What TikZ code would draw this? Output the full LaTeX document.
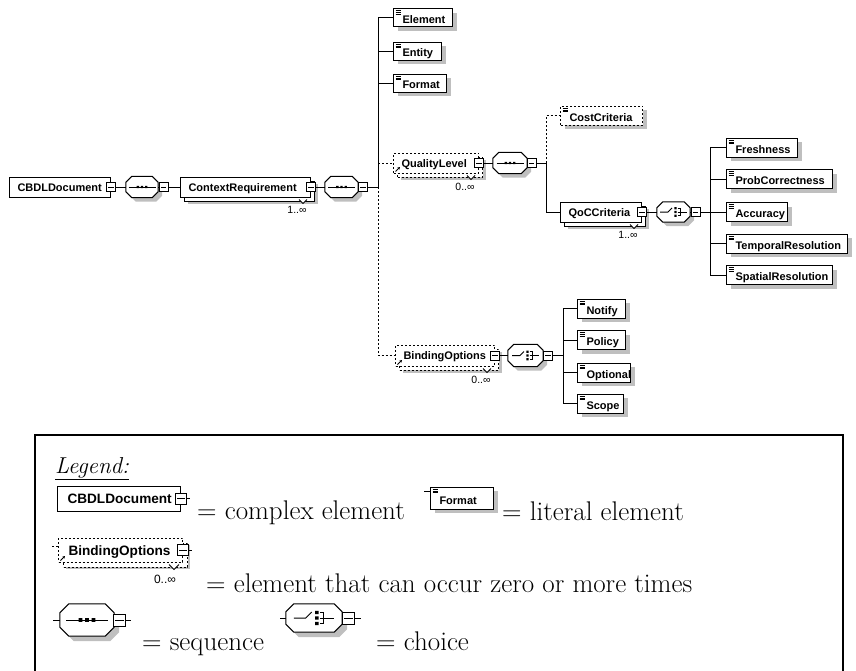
\documentclass[tikz,border=0pt]{standalone}
\usepackage{fontspec}
\usetikzlibrary{shadows,arrows.meta}
\newfontfamily\xsf{Liberation Sans}
\newcommand\lblfont{\xsf\bfseries\fontsize{11}{13}\selectfont}
\newcommand\lgdlblfont{\xsf\bfseries\fontsize{13.6}{16}\selectfont}
\newcommand\mltfont{\xsf\fontsize{10.5}{12}\selectfont}
\newcommand\lgdfont{\fontsize{27}{32}\selectfont}
\def\boxpad{8pt}
\tikzset{
  ln/.style={line width=1pt},
  dsh/.style={dash pattern=on 2pt off 2pt},
  bpad/.code={\def\boxpad{#1}},
  box/.style={rectangle, draw, fill=white, line width=1pt, anchor=west,
    inner xsep=0pt, inner ysep=0pt, align=left,
    execute at begin node={\hyphenpenalty=10000\exhyphenpenalty=10000\noindent\hspace*{\boxpad}}},
  cplx/.style={box, bpad=8pt, font=\lblfont, minimum height=20pt, text height=8pt, text depth=0pt},
  lit/.style={box, bpad=9pt, font=\lblfont, minimum height=18pt, text height=11pt, text depth=0pt,
    path picture={\foreach \k in {2.2pt,3.9pt,5.6pt}{\draw[line width=0.6pt,solid] ([xshift=2pt,yshift=-\k]path picture bounding box.north west) -- ++(5pt,0pt);}}},
  gshd/.style={general shadow={shadow xshift=#1, shadow yshift=-#1, fill=black!25, draw=none}},
  gshd/.default=4pt,
  stack/.style={general shadow={shadow xshift=4pt, shadow yshift=-4pt, fill=white, draw=black, line width=1pt, #1}},
  stack/.default=,
  mbox/.style={rectangle, draw, solid, fill=white, line width=0.8pt, minimum size=9pt, inner sep=0pt,
    path picture={\draw[line width=0.8pt] ([xshift=1.8pt]path picture bounding box.west) -- ([xshift=-1.8pt]path picture bounding box.east);}},
  octn/.style={rectangle, inner sep=0pt, draw=none},
  lgd/.style={anchor=base west, inner sep=0pt, font=\lgdfont},
  mlt/.style={font=\mltfont, inner sep=0pt, anchor=north},
}
\newcommand\octp[2]{([xshift=#2]#1.north west) -- ([xshift=-#2]#1.north east) -- ([yshift=-#2]#1.north east) -- ([yshift=#2]#1.south east) -- ([xshift=-#2]#1.south east) -- ([xshift=#2]#1.south west) -- ([yshift=#2]#1.south west) -- ([yshift=-#2]#1.north west) -- cycle}
\newcommand\octo[3]{%
  \fill[black!25, transform canvas={xshift=#3,yshift=-#3}] \octp{#1}{#2};
  \draw[ln, fill=white] \octp{#1}{#2};}
\newcommand\seqsym[2]{\begin{scope}[shift={(#1.center)}, scale=#2]
  \draw[line width=1pt] (-13.5,0) -- (13.5,0);
  \fill (-5.4,-1.2) rectangle (-3,1.2) (-1.2,-1.2) rectangle (1.2,1.2) (3,-1.2) rectangle (5.4,1.2);
\end{scope}}
\newcommand\chosym[2]{\begin{scope}[shift={(#1.center)}, scale=#2]
  \draw[line width=1pt] (-13.5,0) -- (-5.5,0) -- (-1.5,-4);
  \fill (0.8,-4.8) rectangle (3,-2.6) (0.8,-1.1) rectangle (3,1.1) (0.8,2.6) rectangle (3,4.8);
  \draw[line width=1pt] (4,-3.7) -- (6.5,-3.7) -- (6.5,3.7) -- (4,3.7) (4,0) -- (13.5,0);
\end{scope}}
\newcommand\mult[3]{%
  \draw[line width=0.8pt, fill=white, solid] ([shift={(-12,2)}]#1.south east) -- ([shift={(-8,6)}]#1.south east) -- ([shift={(-4,2)}]#1.south east);
  \node[mlt] (#2) at ([shift={(-14,9)}]#1.south east) {#3};}
\newcommand\refarr[1]{\draw[line width=1pt, solid, -{Stealth[length=2.6pt,width=2.8pt]}] ([shift={(2.5,-2)}]#1.south west) -- ([shift={(7,-6.5)}]#1.south west);}
\begin{document}
\begin{tikzpicture}[x=1pt,y=-1pt]
\useasboundingbox (0,0) rectangle (856,670);
% ---------- root chain
\node[cplx, text width=101pt] (cbdl) at (9,187) {CBDLDocument};
\node[mbox] (cbdlm) at (cbdl.east) {};
\node[octn, minimum width=32pt, minimum height=21pt] (s1) at (142,187) {};
\octo{s1}{6pt}{4pt}\seqsym{s1}{1}
\node[mbox] (s1m) at (163.5,187) {};
\node[cplx, gshd=7pt, stack, text width=130pt] (cr) at (180,187) {ContextRequirement};
\node[mbox] (crm) at (cr.east) {};
\mult{cr}{crn}{1..∞}
\node[octn, minimum width=33pt, minimum height=21pt] (s2) at (341.5,187) {};
\octo{s2}{6pt}{4pt}\seqsym{s2}{1}
\node[mbox] (s2m) at (363,187) {};
\coordinate (t1) at (378,187);
\draw[ln] (cbdlm) -- (s1); \draw[ln] (s1) -- (s1m); \draw[ln] (s1m) -- (cr);
\draw[ln] (crm) -- (s2); \draw[ln] (s2) -- (s2m); \draw[ln] (s2m) -- (t1);
% ---------- children of ContextRequirement
\node[lit, gshd, text width=59pt] (el) at (393,17.5) {Element};
\node[lit, gshd, text width=48pt] (en) at (393,51) {Entity};
\node[lit, gshd, text width=53pt] (fo) at (393,83) {Format};
\node[cplx, dsh, gshd=7pt, stack={dsh}, text width=85pt] (ql) at (393,163) {QualityLevel};
\node[mbox] (qlm) at (ql.east) {};
\mult{ql}{qln}{0..∞}\refarr{ql}
\node[cplx, dsh, gshd=7pt, stack={dsh}, text width=99pt, minimum height=21pt] (bo) at (395,355.5) {BindingOptions};
\node[mbox] (bom) at (bo.east) {};
\mult{bo}{bon}{0..∞}\refarr{bo}
\draw[ln, dsh] (t1) |- (ql.west);
\draw[ln, dsh] (t1) |- (bo.west);
\draw[ln] (t1) |- (el.west);
\draw[ln] (t1) |- (en.west);
\draw[ln] (t1) |- (fo.west);
% ---------- QualityLevel
\node[octn, minimum width=34pt, minimum height=21pt] (s3) at (510,163) {};
\octo{s3}{6pt}{4pt}\seqsym{s3}{1}
\node[mbox] (s3m) at (531.5,163) {};
\coordinate (t2) at (546,163);
\draw[ln] (qlm) -- (s3); \draw[ln] (s3) -- (s3m); \draw[ln] (s3m) -- (t2);
\node[lit, dsh, gshd, text width=82pt, minimum height=19pt] (cc) at (560,115.5) {CostCriteria};
\node[cplx, gshd=7pt, stack, text width=81pt] (qoc) at (560,212) {QoCCriteria};
\node[mbox] (qocm) at (qoc.east) {};
\mult{qoc}{qocn}{1..∞}
\draw[ln, dsh] (t2) |- (cc.west);
\draw[ln] (t2) |- (qoc.west);
% ---------- QoCCriteria choice
\node[octn, minimum width=33pt, minimum height=20pt] (c1) at (673.5,212) {};
\octo{c1}{6pt}{4pt}\chosym{c1}{1}
\node[mbox] (c1m) at (695.5,212) {};
\coordinate (t3) at (710,212);
\draw[ln] (qocm) -- (c1); \draw[ln] (c1) -- (c1m); \draw[ln] (c1m) -- (t3);
\node[lit, gshd, text width=71pt, minimum height=19pt] (fr) at (726,147.5) {Freshness};
\node[lit, gshd, text width=106pt, minimum height=19pt] (pc) at (726,179) {ProbCorrectness};
\node[lit, gshd, text width=61pt, minimum height=19pt] (ac) at (726,212) {Accuracy};
\node[lit, gshd, text width=121pt, minimum height=19pt] (tr) at (726,243.5) {TemporalResolution};
\node[lit, gshd, text width=106pt, minimum height=19pt] (sr) at (726,275) {SpatialResolution};
\foreach \n in {fr,pc,ac,tr,sr} \draw[ln] (t3) |- (\n.west);
% ---------- BindingOptions choice
\node[octn, minimum width=35pt, minimum height=22pt] (c2) at (525.5,355.5) {};
\octo{c2}{6pt}{4pt}\chosym{c2}{1}
\node[mbox] (c2m) at (548,355.5) {};
\coordinate (t4) at (563,355.5);
\draw[ln] (bom) -- (c2); \draw[ln] (c2) -- (c2m); \draw[ln] (c2m) -- (t4);
\node[lit, gshd, text width=48pt, minimum height=19pt] (no) at (577,308.5) {Notify};
\node[lit, gshd, text width=48pt, minimum height=19pt] (po) at (577,340) {Policy};
\node[lit, gshd, text width=53pt, minimum height=19pt] (op) at (577,372.5) {Optional};
\node[lit, gshd, text width=46pt, minimum height=19pt] (sc) at (577,403.5) {Scope};
\foreach \n in {no,po,op,sc} \draw[ln] (t4) |- (\n.west);
% ---------- legend
\draw[line width=1.5pt] (35,671) -- (35,435) -- (843,435) -- (843,671);
\node[anchor=base west, inner sep=0pt, font=\fontsize{23}{28}\selectfont] (lgh) at (55,473) {\underline{\textit{Legend:}}};
\node[cplx, bpad=10pt, font=\lgdlblfont, minimum height=25pt, text height=10pt, text width=123pt] (lcb) at (57,498.5) {CBDLDocument};
\node[mbox, minimum size=11pt] (lcbm) at (lcb.east) {};
\coordinate (lcbt) at (190,498.5);
\draw[ln] (lcbm) -- (lcbt);
\node[lgd] (tx1) at (197,519) {= complex element};
\node[lit, gshd, text width=63pt, minimum height=22pt, text height=12pt] (lfo) at (430,498) {Format};
\coordinate (lfot) at (424,491);
\draw[ln] (lfot) -- (lfot -| lfo.west);
\node[lgd] (tx2) at (502,520) {= literal element};
\node[cplx, dsh, bpad=10pt, font=\lgdlblfont, gshd=7pt, stack={dsh, shadow xshift=5pt, shadow yshift=-5pt}, minimum height=24pt, text height=10pt, text width=124pt] (lbo) at (58,550) {BindingOptions};
\node[mbox, minimum size=11pt] (lbom) at (lbo.east) {};
\coordinate (lbot) at (192,550);
\draw[ln] (lbom) -- (lbot);
\coordinate (lbol) at (52,546);
\draw[ln, dsh] (lbol) -- (lbol -| lbo.west);
\draw[line width=0.8pt, fill=white] ([shift={(-14,2)}]lbo.south east) -- ([shift={(-9,7)}]lbo.south east) -- ([shift={(-4,2)}]lbo.south east);
\node[font=\xsf\fontsize{12}{14}\selectfont, inner sep=0pt] (lbon) at (165,579) {0..∞};
\refarr{lbo}
\node[lgd] (tx3) at (206,592) {= element that can occur zero or more times};
\node[octn, minimum width=54pt, minimum height=32pt] (ls) at (87,620) {};
\octo{ls}{9pt}{5pt}\seqsym{ls}{1.55}
\node[mbox, minimum size=12pt] (lsm) at (119.5,620) {};
\coordinate (lsa) at (53,620); \coordinate (lsb) at (131,620);
\draw[ln] (lsa) -- (ls); \draw[ln] (ls) -- (lsm); \draw[ln] (lsm) -- (lsb);
\node[lgd] (tx4) at (142,650) {= sequence};
\node[octn, minimum width=56pt, minimum height=28pt] (lc) at (314,618) {};
\octo{lc}{8pt}{5pt}\chosym{lc}{1.5}
\node[mbox, minimum size=12pt] (lcm) at (348.5,618) {};
\coordinate (lca) at (280,618); \coordinate (lcb2) at (361,618);
\draw[ln] (lca) -- (lc); \draw[ln] (lc) -- (lcm); \draw[ln] (lcm) -- (lcb2);
\node[lgd] (tx5) at (376,650) {= choice};
\end{tikzpicture}
\end{document}
